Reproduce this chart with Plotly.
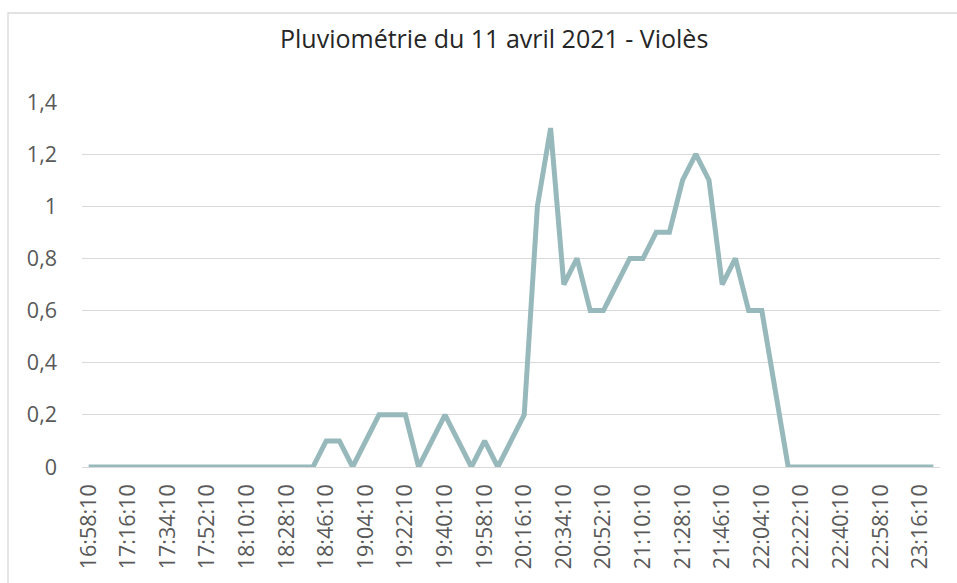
import plotly.graph_objects as go

# Rainfall readings, one every 6 minutes (mm)
times = [
    "16:58:10", "17:04:10", "17:10:10", "17:16:10", "17:22:10", "17:28:10",
    "17:34:10", "17:40:10", "17:46:10", "17:52:10", "17:58:10", "18:04:10",
    "18:10:10", "18:16:10", "18:22:10", "18:28:10", "18:34:10", "18:40:10",
    "18:46:10", "18:52:10", "18:58:10", "19:04:10", "19:10:10", "19:16:10",
    "19:22:10", "19:28:10", "19:34:10", "19:40:10", "19:46:10", "19:52:10",
    "19:58:10", "20:04:10", "20:10:10", "20:16:10", "20:22:10", "20:28:10",
    "20:34:10", "20:40:10", "20:46:10", "20:52:10", "20:58:10", "21:04:10",
    "21:10:10", "21:16:10", "21:22:10", "21:28:10", "21:34:10", "21:40:10",
    "21:46:10", "21:52:10", "21:58:10", "22:04:10", "22:10:10", "22:16:10",
    "22:22:10", "22:28:10", "22:34:10", "22:40:10", "22:46:10", "22:52:10",
    "22:58:10", "23:04:10", "23:10:10", "23:16:10", "23:22:10",
]
rain = [
    0, 0, 0, 0, 0, 0, 0, 0, 0, 0, 0, 0, 0, 0, 0, 0, 0, 0,
    0.1, 0.1, 0, 0.1, 0.2, 0.2, 0.2, 0, 0.1, 0.2, 0.1, 0, 0.1, 0, 0.1, 0.2,
    1.0, 1.3, 0.7, 0.8, 0.6, 0.6, 0.7, 0.8, 0.8, 0.9, 0.9, 1.1, 1.2, 1.1,
    0.7, 0.8, 0.6, 0.6, 0.3,
    0, 0, 0, 0, 0, 0, 0, 0, 0, 0, 0, 0,
]
tick_times = times[::3]
y_ticks = [0, 0.2, 0.4, 0.6, 0.8, 1.0, 1.2, 1.4]

title = "Pluviométrie du 11 avril 2021 - Violès"
font = "Open Sans, Noto Sans, sans-serif"
grid = "#d9d9d9"

W, H = 957, 583
L, R, T, B = 82, 17, 102, 116
pw, ph = W - L - R, H - T - B


def px_x(p):
    return (p - L) / pw


def px_y(p):
    return (H - B - p) / ph


fig = go.Figure(
    go.Scatter(
        x=times, y=rain, mode="lines",
        line=dict(color="#98b9bb", width=5),
        hoverinfo="x+y",
    )
)

fig.update_layout(
    width=W, height=H,
    margin=dict(l=L, r=R, t=T, b=B),
    paper_bgcolor="white", plot_bgcolor="white",
    separators=", ",
    showlegend=False,
    font=dict(family=font, color="#595959", size=21),
    annotations=[
        dict(
            text=title, xref="paper", yref="paper",
            x=px_x(494), y=px_y(38), xanchor="center", yanchor="middle",
            showarrow=False, font=dict(size=25, color="#262626", family=font),
        )
    ],
    shapes=[
        dict(
            type="rect", xref="paper", yref="paper",
            x0=px_x(8), x1=px_x(1010), y0=px_y(620), y1=px_y(13),
            line=dict(color=grid, width=1.3), fillcolor="rgba(0,0,0,0)",
            layer="below",
        )
    ],
)

fig.update_xaxes(
    type="category", range=[-0.5, len(times) - 0.5],
    tickmode="array", tickvals=tick_times, ticktext=tick_times,
    tickangle=-90, ticklabelstandoff=12,
    showgrid=False, showline=False, zeroline=False, ticks="",
    tickfont=dict(size=21.5, color="#595959"),
)
fig.update_yaxes(
    range=[0, 1.4], tickmode="array", tickvals=y_ticks,
    showgrid=True, gridcolor=grid, gridwidth=1.3,
    zeroline=True, zerolinecolor=grid, zerolinewidth=1.3,
    showline=False, ticks="", ticklabelstandoff=24,
    tickfont=dict(size=21.5, color="#595959"),
)

fig.write_html("out.html")
